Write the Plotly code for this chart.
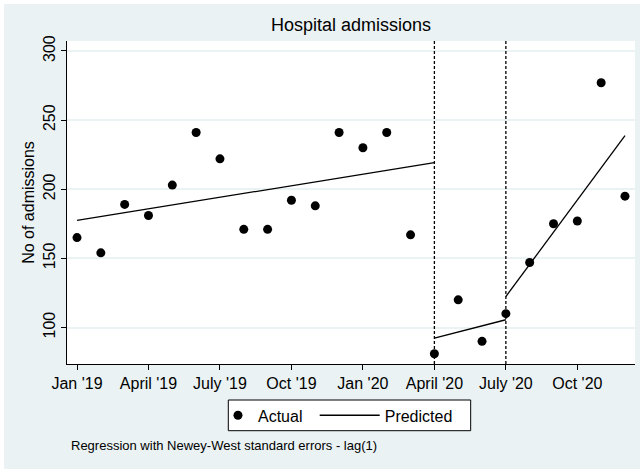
import pandas as pd
import plotly.graph_objects as go

# Monthly hospital admissions, Jan 2019 - Dec 2020
months = pd.period_range("2019-01", periods=24, freq="M")
admissions = [165, 154, 189, 181, 203, 241, 222, 171, 171, 192, 188, 241,
              230, 241, 167, 81, 120, 90, 110, 147, 175, 177, 277, 195]

# Interruption points (start of each new period)
interruptions = ["2020-04", "2020-07"]

# Fitted segments of the interrupted time-series regression (start/end month, value)
seg_start_month = ["2019-01", "2020-04", "2020-07"]
seg_end_month = ["2020-04", "2020-07", "2020-12"]
seg_start_value = [177.4, 92.3, 122.4]
seg_end_value = [219.3, 105.6, 238.7]

# Axis ticks
x_tick_months = ["2019-01", "2019-04", "2019-07", "2019-10",
                 "2020-01", "2020-04", "2020-07", "2020-10"]
x_tick_labels = ["Jan '19", "April '19", "July '19", "Oct '19",
                 "Jan '20", "April '20", "July '20", "Oct '20"]
y_ticks = [100, 150, 200, 250, 300]

month_index = {str(m): i for i, m in enumerate(months)}
x_actual = list(range(len(months)))

pred_x, pred_y = [], []
for s, e, v0, v1 in zip(seg_start_month, seg_end_month, seg_start_value, seg_end_value):
    pred_x += [month_index[s], month_index[e], None]
    pred_y += [v0, v1, None]

FONT = "Liberation Sans, Arial, Helvetica, sans-serif"
BG = "#EAF2F3"

fig = go.Figure()
fig.add_trace(go.Scatter(
    x=x_actual, y=admissions, mode="markers", name="Actual",
    marker=dict(color="black", size=9), legend="legend",
))
fig.add_trace(go.Scatter(
    x=pred_x, y=pred_y, mode="lines", name="Predicted",
    line=dict(color="black", width=1.3), legend="legend2",
))

shapes = []
for m in interruptions:
    shapes.append(dict(type="line", xref="x", yref="paper",
                       x0=month_index[m], x1=month_index[m], y0=0, y1=1,
                       line=dict(color="black", width=1.3, dash="3px,2px")))
# legend frame
shapes.append(dict(type="rect", xref="paper", yref="paper",
                   x0=0.284, x1=0.7107, y0=-0.2065, y1=-0.1115,
                   fillcolor="white", line=dict(color="black", width=1), layer="below"))
# white outer edges (top and left)
shapes.append(dict(type="rect", xref="paper", yref="paper",
                   x0=-0.13, x1=1.02, y0=1.1146, y1=1.14,
                   fillcolor="white", line=dict(width=0), layer="below"))
shapes.append(dict(type="rect", xref="paper", yref="paper",
                   x0=-0.13, x1=-0.1109, y0=-0.35, y1=1.14,
                   fillcolor="white", line=dict(width=0), layer="below"))

fig.update_layout(
    width=640, height=469,
    margin=dict(l=67, r=5, t=41, b=105),
    paper_bgcolor=BG, plot_bgcolor="white",
    font=dict(family=FONT, size=16, color="black"),
    title=dict(text="Hospital admissions", x=0.5, xref="paper",
               y=1 - 24.5 / 469, yref="container", yanchor="middle",
               font=dict(size=18, color="black")),
    showlegend=True,
    legend=dict(orientation="h", x=0.2658, xanchor="left", y=-0.159, yanchor="middle",
                bgcolor="rgba(0,0,0,0)", borderwidth=0, itemwidth=30,
                font=dict(size=16)),
    legend2=dict(orientation="h", x=0.4361, xanchor="left", y=-0.159, yanchor="middle",
                 bgcolor="rgba(0,0,0,0)", borderwidth=0, itemwidth=60,
                 font=dict(size=16)),
    shapes=shapes,
    annotations=[dict(text="Regression with Newey-West standard errors - lag(1)",
                      xref="paper", yref="paper", x=0.004, y=-0.2523,
                      xanchor="left", yanchor="middle", showarrow=False,
                      font=dict(size=13, color="black"))],
)

fig.update_xaxes(
    range=[-0.42, 23.42],
    tickvals=[month_index[m] for m in x_tick_months], ticktext=x_tick_labels,
    ticks="outside", ticklen=5, tickcolor="black", tickwidth=1,
    showline=True, linecolor="black", linewidth=1,
    showgrid=False, zeroline=False, tickfont=dict(size=16),
)
fig.update_yaxes(
    range=[73.6, 307.2], tickvals=y_ticks, tickangle=-90,
    ticks="outside", ticklen=5, tickcolor="black", tickwidth=1,
    showline=True, linecolor="black", linewidth=1,
    showgrid=True, gridcolor=BG, gridwidth=1.5, zeroline=False,
    tickfont=dict(size=16),
    title=dict(text="No of admissions", font=dict(size=16), standoff=1),
)

fig.write_html("out.html")
